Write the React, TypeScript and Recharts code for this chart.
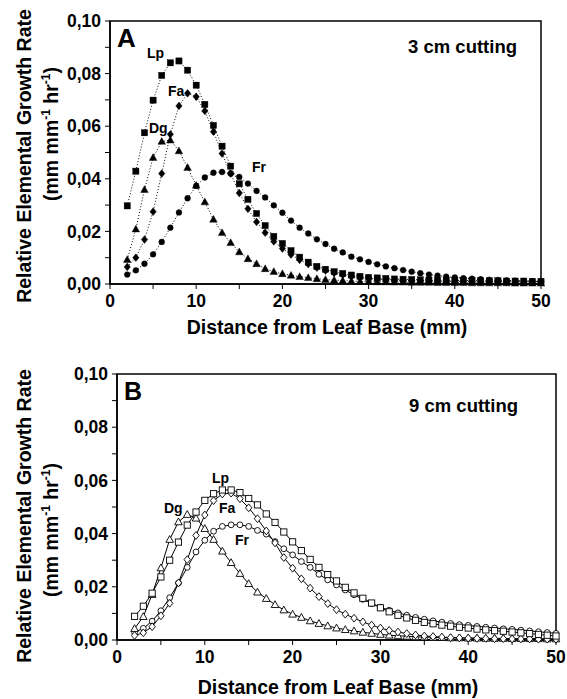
import React from 'react';
import { LineChart, Line, XAxis, YAxis, ReferenceArea } from 'recharts';

// distance from leaf base (mm)
const distance = [
  2, 3, 4, 5, 6, 7, 8, 9, 10, 11, 12, 13, 14, 15, 16, 17, 18, 19, 20, 21, 22, 23, 24, 25, 26,
  27, 28, 29, 30, 31, 32, 33, 34, 35, 36, 37, 38, 39, 40, 41, 42, 43, 44, 45, 46, 47, 48, 49, 50,
];

// panel A - 3 cm cutting
const lpA = [
  0.0297, 0.0429, 0.0575, 0.0699, 0.0793, 0.0841, 0.0848, 0.0813, 0.0756, 0.0683,
  0.0603, 0.0524, 0.0448, 0.0381, 0.0322, 0.0268, 0.0222, 0.0181, 0.0154, 0.0127,
  0.0102, 0.0083, 0.0067, 0.0056, 0.0047, 0.004, 0.0034, 0.0029, 0.0025, 0.0023,
  0.0021, 0.0019, 0.0018, 0.0017, 0.0016, 0.0015, 0.0015, 0.0014, 0.0014, 0.0013,
  0.0013, 0.0012, 0.0012, 0.0012, 0.0011, 0.0011, 0.0011, 0.001, 0.001,
];
const faA = [
  0.0065, 0.01, 0.0169, 0.0275, 0.042, 0.0569, 0.0677, 0.0725, 0.0712, 0.0658,
  0.0579, 0.0496, 0.042, 0.0346, 0.0286, 0.0236, 0.0195, 0.0162, 0.0135, 0.0112,
  0.0092, 0.0076, 0.0062, 0.0051, 0.0042, 0.0035, 0.0029, 0.0025, 0.0021, 0.0019,
  0.0017, 0.0015, 0.0014, 0.0013, 0.0012, 0.0012, 0.0011, 0.0011, 0.001, 0.001,
  0.001, 0.0009, 0.0009, 0.0009, 0.0009, 0.0008, 0.0008, 0.0008, 0.0008,
];
const dgA = [
  0.0093, 0.0209, 0.0359, 0.0481, 0.0542, 0.0547, 0.0506, 0.0443, 0.0375, 0.0312,
  0.0246, 0.0195, 0.0157, 0.0122, 0.0096, 0.0077, 0.0058, 0.0047, 0.0039, 0.0033,
  0.0028, 0.0024, 0.002, 0.0017, 0.0015, 0.0013, 0.0011, 0.001, 0.0009, 0.0008,
  0.0008, 0.0007, 0.0007, 0.0006, 0.0006, 0.0006, 0.0005, 0.0005, 0.0005, 0.0005,
  0.0004, 0.0004, 0.0004, 0.0004, 0.0004, 0.0003, 0.0003, 0.0003, 0.0003,
];
const frA = [
  0.0036, 0.0052, 0.0077, 0.0113, 0.016, 0.0214, 0.0272, 0.0326, 0.0373, 0.0405,
  0.0423, 0.0426, 0.042, 0.0407, 0.0382, 0.0354, 0.0329, 0.0299, 0.0271, 0.0241,
  0.0214, 0.0192, 0.017, 0.0152, 0.0134, 0.012, 0.0104, 0.0094, 0.0084, 0.0075,
  0.0067, 0.006, 0.0053, 0.0047, 0.0041, 0.0036, 0.0032, 0.0028, 0.0025, 0.0022,
  0.002, 0.0018, 0.0016, 0.0015, 0.0014, 0.0013, 0.0012, 0.0011, 0.001,
];

// panel B - 9 cm cutting
const lpB = [
  0.0089, 0.0127, 0.0176, 0.0237, 0.03, 0.0368, 0.0432, 0.0481, 0.0525, 0.055,
  0.0564, 0.0564, 0.0554, 0.0532, 0.0508, 0.0474, 0.0442, 0.0406, 0.0369, 0.0336,
  0.0303, 0.0273, 0.0246, 0.0222, 0.0198, 0.0177, 0.0157, 0.0139, 0.0121, 0.0106,
  0.0093, 0.0083, 0.0074, 0.0066, 0.0061, 0.0056, 0.0052, 0.0048, 0.0045, 0.0041,
  0.0038, 0.0035, 0.0033, 0.003, 0.0027, 0.0024, 0.0021, 0.0018, 0.0015,
];
const faB = [
  0.0017, 0.0027, 0.005, 0.0091, 0.0138, 0.0215, 0.0302, 0.0393, 0.047, 0.0524,
  0.0549, 0.0552, 0.0531, 0.0497, 0.0456, 0.041, 0.0365, 0.031, 0.027, 0.023,
  0.0195, 0.0163, 0.0137, 0.0114, 0.0097, 0.0082, 0.0068, 0.0056, 0.0045, 0.0036,
  0.003, 0.0024, 0.0019, 0.0015, 0.0013, 0.0011, 0.0009, 0.0008, 0.0007, 0.0006,
  0.0006, 0.0005, 0.0005, 0.0004, 0.0004, 0.0004, 0.0003, 0.0003, 0.0003,
];
const dgB = [
  0.0043, 0.0088, 0.0171, 0.0271, 0.0378, 0.0444, 0.0472, 0.0458, 0.0419, 0.0378,
  0.0334, 0.0291, 0.025, 0.0212, 0.018, 0.0156, 0.0133, 0.0113, 0.0097, 0.0085,
  0.0072, 0.0062, 0.0053, 0.0045, 0.0039, 0.0034, 0.0029, 0.0025, 0.0021, 0.0018,
  0.0016, 0.0014, 0.0012, 0.0011, 0.001, 0.0009, 0.0008, 0.0008, 0.0007, 0.0007,
  0.0006, 0.0006, 0.0006, 0.0005, 0.0005, 0.0005, 0.0005, 0.0004, 0.0004,
];
const frB = [
  0.0029, 0.0044, 0.0071, 0.011, 0.0159, 0.0214, 0.0273, 0.0331, 0.0375, 0.0409,
  0.0427, 0.0433, 0.0433, 0.0427, 0.0412, 0.0398, 0.037, 0.0343, 0.032, 0.0295,
  0.0273, 0.0247, 0.0226, 0.0207, 0.0188, 0.017, 0.0153, 0.0137, 0.0123, 0.0112,
  0.0102, 0.0093, 0.0085, 0.0078, 0.0072, 0.0067, 0.0062, 0.0058, 0.0055, 0.0051,
  0.0048, 0.0045, 0.0042, 0.004, 0.0037, 0.0034, 0.0031, 0.0028, 0.0025,
];

const xTicks = [0, 5, 10, 15, 20, 25, 30, 35, 40, 45, 50];
const yTicks = [0, 0.01, 0.02, 0.03, 0.04, 0.05, 0.06, 0.07, 0.08, 0.09, 0.1];

const FONT = 'Arial, "Liberation Sans", sans-serif';

type Shape = 'square' | 'diamond' | 'triangle' | 'circle';

const makeDot = (shape: Shape, filled: boolean) => (props: any) => {
  const { cx, cy, index } = props;
  if (cx == null || cy == null) return <g key={index} />;
  const common = {
    fill: filled ? '#000' : '#fff',
    stroke: '#000',
    strokeWidth: filled ? 0.4 : 0.9,
  };
  if (shape === 'square') {
    return <rect key={index} x={cx - 3.1} y={cy - 3.1} width={6.2} height={6.2} {...common} />;
  }
  if (shape === 'diamond') {
    const pts = `${cx},${cy - 3.9} ${cx + 3.2},${cy} ${cx},${cy + 3.9} ${cx - 3.2},${cy}`;
    return <polygon key={index} points={pts} {...common} />;
  }
  if (shape === 'triangle') {
    const pts = `${cx},${cy - 3.9} ${cx + 3.8},${cy + 2.9} ${cx - 3.8},${cy + 2.9}`;
    return <polygon key={index} points={pts} {...common} />;
  }
  return <circle key={index} cx={cx} cy={cy} r={2.9} {...common} />;
};

const buildRows = (lp: number[], fa: number[], dg: number[], fr: number[]) =>
  distance.map((d, i) => ({ d, lp: lp[i], fa: fa[i], dg: dg[i], fr: fr[i] }));

const SERIES: { key: string; shape: Shape }[] = [
  { key: 'fr', shape: 'circle' },
  { key: 'dg', shape: 'triangle' },
  { key: 'fa', shape: 'diamond' },
  { key: 'lp', shape: 'square' },
];

const tickStyle = { fill: '#000', fontSize: 17.5, fontWeight: 'bold', fontFamily: FONT };

interface PanelProps {
  rows: any[];
  filled: boolean;
  top: number;
  height: number;
  margin: { top: number; right: number; bottom: number; left: number };
}

const Panel = ({ rows, filled, top, height, margin }: PanelProps) => (
  <div style={{ position: 'absolute', left: 0, top }}>
    <LineChart width={567} height={height} data={rows} margin={margin}>
      <XAxis
        dataKey="d"
        type="number"
        domain={[0, 50]}
        ticks={xTicks}
        interval={0}
        height={30}
        tickSize={5}
        tickMargin={6}
        axisLine={{ stroke: '#000', strokeWidth: 1.5 }}
        tickLine={{ stroke: '#000', strokeWidth: 1 }}
        tick={tickStyle}
        tickFormatter={(v: number) => (v % 10 === 0 ? String(v) : '')}
      />
      <YAxis
        type="number"
        domain={[0, 0.1]}
        ticks={yTicks}
        interval={0}
        width={50}
        tickSize={5}
        tickMargin={4}
        axisLine={{ stroke: '#000', strokeWidth: 1.5 }}
        tickLine={{ stroke: '#000', strokeWidth: 1 }}
        tick={tickStyle}
        tickFormatter={(v: number) =>
          Math.round(v * 1000) % 20 === 0 ? v.toFixed(2).replace('.', ',') : ''
        }
      />
      <ReferenceArea x1={0} x2={50} y1={0} y2={0.1} fill="none" stroke="#000" strokeWidth={1.5} />
      {SERIES.map((s) => (
        <Line
          key={s.key}
          dataKey={s.key}
          type="linear"
          stroke="#000"
          strokeWidth={1}
          strokeDasharray={filled ? '1 2' : undefined}
          dot={makeDot(s.shape, filled)}
          activeDot={false}
          isAnimationActive={false}
        />
      ))}
    </LineChart>
  </div>
);

const YTitle = ({ cy1, cy2 }: { cy1: number; cy2: number }) => (
  <>
    <text transform={`translate(31,${cy1}) rotate(-90)`} textAnchor="middle" fontSize={19.5}>
      Relative Elemental Growth Rate
    </text>
    <text transform={`translate(58,${cy2}) rotate(-90)`} textAnchor="middle" fontSize={19.5}>
      (mm mm
      <tspan fontSize={12} dy={-8}>-1</tspan>
      <tspan dy={8}> hr</tspan>
      <tspan fontSize={12} dy={-8}>-1</tspan>
      <tspan dy={8}>)</tspan>
    </text>
  </>
);

const App = () => {
  const rowsA = buildRows(lpA, faA, dgA, frA);
  const rowsB = buildRows(lpB, faB, dgB, frB);

  return (
    <div style={{ position: 'absolute', left: 0, top: 0, width: 567, height: 699, background: '#fff' }}>
      <Panel rows={rowsA} filled top={0} height={345} margin={{ top: 21, right: 26, bottom: 31, left: 60 }} />
      <Panel rows={rowsB} filled={false} top={350} height={349} margin={{ top: 24, right: 11, bottom: 29, left: 67 }} />

      <svg
        width={567}
        height={699}
        style={{ position: 'absolute', left: 0, top: 0, pointerEvents: 'none' }}
        fontFamily={FONT}
        fontWeight="bold"
        fill="#000"
      >
        {/* panel A */}
        <text x={117} y={47} fontSize={26}>A</text>
        <text x={517} y={53} fontSize={18.5} textAnchor="end">3 cm cutting</text>
        <text x={147} y={57.5} fontSize={14}>Lp</text>
        <text x={168} y={96} fontSize={14}>Fa</text>
        <text x={149} y={132.5} fontSize={14}>Dg</text>
        <text x={252} y={172} fontSize={14}>Fr</text>
        <text x={327} y={334} fontSize={19.5} textAnchor="middle">Distance from Leaf Base (mm)</text>
        <YTitle cy1={156} cy2={134} />

        {/* panel B */}
        <text x={124} y={400} fontSize={25}>B</text>
        <text x={518} y={412} fontSize={18.5} textAnchor="end">9 cm cutting</text>
        <text x={212} y={483} fontSize={14}>Lp</text>
        <text x={164} y={513} fontSize={14}>Dg</text>
        <text x={219} y={513} fontSize={14}>Fa</text>
        <text x={235} y={545} fontSize={14}>Fr</text>
        <text x={338} y={694} fontSize={19.5} textAnchor="middle">Distance from Leaf Base (mm)</text>
        <YTitle cy1={516} cy2={530} />
      </svg>
    </div>
  );
};

export default App;
